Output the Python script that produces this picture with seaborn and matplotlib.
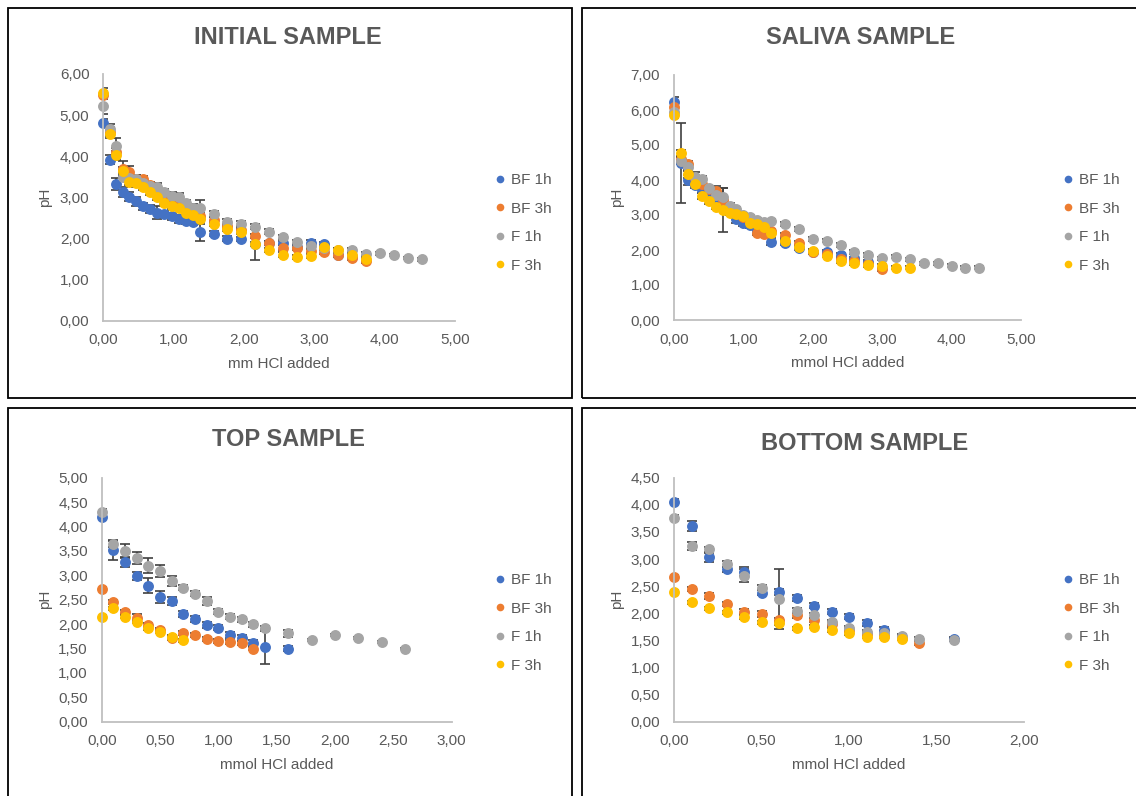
import matplotlib
matplotlib.use("Agg")
import matplotlib.pyplot as plt
from matplotlib.patches import Rectangle
from matplotlib.lines import Line2D
from matplotlib.ticker import FuncFormatter, MultipleLocator
import seaborn as sns
import pandas as pd

sns.set_theme(style="white")
plt.rcParams['font.family'] = ['Liberation Sans', 'DejaVu Sans']

# ---------------- data ----------------
series_names = ["BF 1h", "BF 3h", "F 1h", "F 3h"]
series_colors = ["#4472C4", "#ED7D31", "#A5A5A5", "#FFC000"]

# INITIAL SAMPLE
init_x = [0.0, 0.09, 0.18, 0.28, 0.37, 0.47, 0.57, 0.67, 0.77, 0.87, 0.97, 1.07, 1.17, 1.27, 1.37,
          1.57, 1.76, 1.96, 2.16, 2.35, 2.55, 2.75, 2.95, 3.14, 3.34, 3.54, 3.74, 3.93, 4.13, 4.33, 4.53]
init_bf1h = [4.80, 3.92, 3.32, 3.12, 3.02, 2.90, 2.78, 2.72, 2.63, 2.60, 2.54, 2.47, 2.43, 2.40, 2.15,
             2.12, 1.99, 1.99, 1.86, 1.90, 1.90, 1.80, 1.90, 1.86, 1.59, 1.56]
init_bf1h_err = [0.10, 0.12, 0.15, 0.12, 0.10, 0.10, 0.08, 0.10, 0.15, 0.08, 0.08, 0.10, 0.08, 0.08, 0.20,
                 0.06, 0.06, 0.05, 0.05, 0.05, 0.05, 0.05, 0.06, 0.05, 0.05, 0.05]
init_bf3h = [5.50, 4.60, 4.10, 3.70, 3.62, 3.45, 3.44, 3.30, 3.15, 3.00, 2.90, 2.85, 2.75, 2.65, 2.55,
             2.45, 2.30, 2.20, 2.06, 1.88, 1.78, 1.78, 1.69, 1.67, 1.59, 1.53, 1.45]
init_bf3h_err = [0.08, 0.10, 0.10, 0.18, 0.15, 0.10, 0.08, 0.08, 0.08, 0.08, 0.08, 0.08, 0.08, 0.08, 0.08,
                 0.08, 0.06, 0.06, 0.05, 0.05, 0.05, 0.05, 0.05, 0.05, 0.05, 0.05, 0.05]
init_f1h = [5.23, 4.67, 4.24, 3.50, 3.48, 3.44, 3.36, 3.28, 3.26, 3.12, 3.04, 3.00, 2.86, 2.74, 2.74,
            2.60, 2.39, 2.36, 2.28, 2.16, 2.04, 1.91, 1.82, 1.78, 1.73, 1.71, 1.62, 1.64, 1.60, 1.52, 1.49]
init_f1h_err = [0.20, 0.12, 0.20, 0.10, 0.08, 0.10, 0.08, 0.08, 0.08, 0.08, 0.08, 0.10, 0.08, 0.10, 0.20,
                0.08, 0.08, 0.06, 0.06, 0.06, 0.05, 0.05, 0.05, 0.05, 0.05, 0.05, 0.05, 0.03, 0.03, 0.03, 0.03]
init_f3h = [5.53, 4.55, 4.02, 3.64, 3.38, 3.34, 3.24, 3.12, 3.00, 2.87, 2.78, 2.75, 2.63, 2.58, 2.47,
            2.36, 2.23, 2.15, 1.87, 1.73, 1.61, 1.56, 1.57, 1.80, 1.73, 1.59, 1.51]
init_f3h_err = [0.13, 0.10, 0.10, 0.10, 0.08, 0.08, 0.06, 0.06, 0.06, 0.06, 0.06, 0.06, 0.06, 0.06, 0.06,
                0.06, 0.05, 0.05, 0.40, 0.05, 0.05, 0.05, 0.05, 0.05, 0.05, 0.05, 0.05]

# SALIVA SAMPLE
sal_x = [0.0, 0.1, 0.2, 0.3, 0.4, 0.5, 0.6, 0.7, 0.8, 0.9, 1.0, 1.1, 1.2, 1.3, 1.4,
         1.6, 1.8, 2.0, 2.2, 2.4, 2.6, 2.8, 3.0, 3.2, 3.4, 3.6, 3.8, 4.0, 4.2, 4.4]
sal_bf1h = [6.24, 4.49, 4.00, 3.86, 3.72, 3.60, 3.45, 3.30, 3.10, 2.88, 2.76, 2.71, 2.54, 2.48, 2.24,
            2.21, 2.05, 1.95, 1.95, 1.86, 1.76, 1.67]
sal_bf1h_err = [0.12, 1.14, 0.15, 0.10, 0.08, 0.08, 0.08, 0.08, 0.08, 0.10, 0.08, 0.08, 0.08, 0.08, 0.10,
                0.06, 0.05, 0.05, 0.05, 0.05, 0.05, 0.05]
sal_bf3h = [6.10, 4.60, 4.45, 4.05, 3.90, 3.75, 3.70, 3.43, 3.20, 3.05, 2.95, 2.80, 2.50, 2.45, 2.55,
            2.43, 2.19, 1.95, 1.88, 1.75, 1.69, 1.60, 1.45]
sal_bf3h_err = [0.08, 0.10, 0.08, 0.08, 0.08, 0.08, 0.12, 0.08, 0.06, 0.06, 0.06, 0.06, 0.06, 0.06, 0.06,
                0.06, 0.06, 0.05, 0.05, 0.05, 0.05, 0.05, 0.05]
sal_f1h = [5.95, 4.55, 4.38, 4.10, 4.02, 3.76, 3.57, 3.52, 3.26, 3.16, 3.00, 2.95, 2.86, 2.81, 2.83,
           2.74, 2.60, 2.31, 2.27, 2.14, 1.95, 1.86, 1.76, 1.81, 1.73, 1.62, 1.62, 1.55, 1.50, 1.50]
sal_f1h_err = [0.10, 0.10, 0.10, 0.12, 0.10, 0.08, 0.08, 0.25, 0.08, 0.08, 0.06, 0.06, 0.06, 0.06, 0.06,
               0.05, 0.05, 0.05, 0.05, 0.05, 0.05, 0.05, 0.05, 0.05, 0.04, 0.04, 0.04, 0.04, 0.03, 0.03]
sal_f3h = [5.86, 4.76, 4.16, 3.90, 3.54, 3.40, 3.24, 3.14, 3.07, 3.02, 2.97, 2.78, 2.73, 2.67, 2.49,
           2.26, 2.08, 1.98, 1.84, 1.69, 1.62, 1.57, 1.54, 1.50, 1.50]
sal_f3h_err = [0.10, 0.10, 0.10, 0.08, 0.08, 0.08, 0.08, 0.63, 0.08, 0.06, 0.06, 0.06, 0.06, 0.06, 0.06,
               0.05, 0.05, 0.05, 0.05, 0.05, 0.05, 0.05, 0.05, 0.04, 0.04]

# TOP SAMPLE
top_x = [0.0, 0.1, 0.2, 0.3, 0.4, 0.5, 0.6, 0.7, 0.8, 0.9, 1.0, 1.1, 1.2, 1.3, 1.4,
         1.6, 1.8, 2.0, 2.2, 2.4, 2.6]
top_bf1h = [4.20, 3.52, 3.27, 2.99, 2.79, 2.56, 2.48, 2.21, 2.10, 1.98, 1.93, 1.78, 1.72, 1.62, 1.54, 1.50]
top_bf1h_err = [0.05, 0.20, 0.10, 0.08, 0.15, 0.12, 0.08, 0.06, 0.06, 0.06, 0.06, 0.06, 0.06, 0.06, 0.35, 0.05]
top_bf3h = [2.72, 2.45, 2.25, 2.13, 1.98, 1.88, 1.71, 1.81, 1.78, 1.69, 1.66, 1.64, 1.61, 1.50]
top_bf3h_err = [0.04, 0.04, 0.04, 0.08, 0.04, 0.04, 0.04, 0.04, 0.04, 0.04, 0.04, 0.04, 0.04, 0.04]
top_f1h = [4.30, 3.64, 3.50, 3.36, 3.20, 3.09, 2.89, 2.75, 2.62, 2.48, 2.25, 2.15, 2.10, 2.00, 1.91,
           1.81, 1.67, 1.78, 1.71, 1.64, 1.50]
top_f1h_err = [0.05, 0.06, 0.15, 0.12, 0.15, 0.12, 0.10, 0.05, 0.05, 0.08, 0.05, 0.05, 0.05, 0.05, 0.05,
               0.07, 0.02, 0.02, 0.02, 0.02, 0.02]
top_f3h = [2.15, 2.32, 2.15, 2.05, 1.91, 1.84, 1.74, 1.67]
top_f3h_err = [0.03, 0.03, 0.03, 0.03, 0.03, 0.03, 0.03, 0.03]

# BOTTOM SAMPLE
bot_x = [0.0, 0.1, 0.2, 0.3, 0.4, 0.5, 0.6, 0.7, 0.8, 0.9, 1.0, 1.1, 1.2, 1.3, 1.4, 1.6]
bot_bf1h_x = [0.0, 0.1, 0.2, 0.3, 0.4, 0.5, 0.6, 0.7, 0.8, 0.9, 1.0, 1.1, 1.2, 1.6]
bot_bf1h = [4.06, 3.61, 3.03, 2.81, 2.77, 2.38, 2.39, 2.28, 2.14, 2.03, 1.94, 1.82, 1.69, 1.53]
bot_bf1h_err = [0.05, 0.10, 0.08, 0.05, 0.08, 0.05, 0.05, 0.05, 0.05, 0.05, 0.05, 0.05, 0.05, 0.04]
bot_bf3h = [2.66, 2.45, 2.32, 2.17, 2.03, 1.99, 1.88, 1.96, 1.88, 1.80, 1.69, 1.62, 1.58, 1.55, 1.46]
bot_bf3h_err = [0.04, 0.04, 0.05, 0.04, 0.04, 0.05, 0.04, 0.04, 0.04, 0.04, 0.04, 0.04, 0.04, 0.04, 0.04]
bot_f1h = [3.76, 3.24, 3.18, 2.91, 2.69, 2.47, 2.26, 2.05, 1.96, 1.83, 1.72, 1.66, 1.64, 1.58, 1.53, 1.51]
bot_f1h_err = [0.05, 0.08, 0.05, 0.05, 0.12, 0.05, 0.55, 0.04, 0.04, 0.04, 0.04, 0.04, 0.04, 0.04, 0.04, 0.03]
bot_f3h = [2.40, 2.20, 2.09, 2.02, 1.93, 1.83, 1.82, 1.72, 1.75, 1.69, 1.63, 1.57, 1.57, 1.53]
bot_f3h_err = [0.03, 0.03, 0.03, 0.03, 0.03, 0.03, 0.03, 0.03, 0.03, 0.03, 0.03, 0.03, 0.03, 0.03]

panels = [
    dict(title="INITIAL SAMPLE", xlabel="mm HCl added",
         series=[(init_x, init_bf1h, init_bf1h_err), (init_x, init_bf3h, init_bf3h_err),
                 (init_x, init_f1h, init_f1h_err), (init_x, init_f3h, init_f3h_err)],
         xlim=5, xstep=1.0, ylim=6, ystep=1.0,
         rect=(103.3, 74, 455, 320.7), title_xy=(288, 37), ylab_x=45, leg_xy=(494, 173)),
    dict(title="SALIVA SAMPLE", xlabel="mmol HCl added",
         series=[(sal_x, sal_bf1h, sal_bf1h_err), (sal_x, sal_bf3h, sal_bf3h_err),
                 (sal_x, sal_f1h, sal_f1h_err), (sal_x, sal_f3h, sal_f3h_err)],
         xlim=5, xstep=1.0, ylim=7, ystep=1.0,
         rect=(674, 75, 1021, 320), title_xy=(861, 37), ylab_x=617, leg_xy=(1062, 173)),
    dict(title="TOP SAMPLE", xlabel="mmol HCl added",
         series=[(top_x, top_bf1h, top_bf1h_err), (top_x, top_bf3h, top_bf3h_err),
                 (top_x, top_f1h, top_f1h_err), (top_x, top_f3h, top_f3h_err)],
         xlim=3, xstep=0.5, ylim=5, ystep=0.5,
         rect=(101.7, 477.7, 451.7, 721.7), title_xy=(288, 439), ylab_x=45, leg_xy=(494, 573)),
    dict(title="BOTTOM SAMPLE", xlabel="mmol HCl added",
         series=[(bot_bf1h_x, bot_bf1h, bot_bf1h_err), (bot_x, bot_bf3h, bot_bf3h_err),
                 (bot_x, bot_f1h, bot_f1h_err), (bot_x, bot_f3h, bot_f3h_err)],
         xlim=2, xstep=0.5, ylim=4.5, ystep=0.5,
         rect=(674, 477.7, 1024, 721.7), title_xy=(865, 444), ylab_x=617, leg_xy=(1062, 573)),
]

# ---------------- figure ----------------
W, H = 1136, 796
fig = plt.figure(figsize=(W / 100, H / 100), dpi=100)
fig.patch.set_facecolor("white")

txt = "#595959"
comma = FuncFormatter(lambda v, p: f"{v:.2f}".replace(".", ","))

# panel frames
for (x0, y0, x1, y1) in [(8, 8, 572, 398), (582, 8, 1140, 398),
                         (8, 408, 572, 800), (582, 408, 1140, 800)]:
    fig.patches.append(Rectangle((x0 / W, 1 - y1 / H), (x1 - x0) / W, (y1 - y0) / H,
                                 transform=fig.transFigure, fill=False,
                                 edgecolor="black", linewidth=1.3, zorder=0))

for p in panels:
    l, t, r, b = p["rect"]
    ax = fig.add_axes([l / W, 1 - b / H, (r - l) / W, (b - t) / H])
    rows = []
    for name, (xs, ys, es) in zip(series_names, p["series"]):
        for xv, yv in zip(xs, ys):
            rows.append({"x": xv, "pH": yv, "series": name})
    df = pd.DataFrame(rows)
    for name, color, (xs, ys, es) in zip(series_names, series_colors, p["series"]):
        ax.errorbar(xs[:len(ys)], ys, yerr=es, fmt="none", ecolor="#404040",
                    elinewidth=1.2, capsize=3.3, capthick=1.2, zorder=1)
        sub = df[df["series"] == name]
        sns.scatterplot(data=sub, x="x", y="pH", color=color, s=62, linewidth=0,
                        legend=False, ax=ax, zorder=2, clip_on=False)
    ax.set_xlim(0, p["xlim"])
    ax.set_ylim(0, p["ylim"])
    ax.xaxis.set_major_locator(MultipleLocator(p["xstep"]))
    ax.yaxis.set_major_locator(MultipleLocator(p["ystep"]))
    ax.xaxis.set_major_formatter(comma)
    ax.yaxis.set_major_formatter(comma)
    ax.tick_params(axis="both", length=0, labelsize=11, labelcolor=txt)
    ax.tick_params(axis="x", pad=9)
    ax.tick_params(axis="y", pad=10)
    for s in ["top", "right"]:
        ax.spines[s].set_visible(False)
    for s in ["left", "bottom"]:
        ax.spines[s].set_color("#BFBFBF")
        ax.spines[s].set_linewidth(1.3)
    ax.grid(False)
    ax.set_xlabel(p["xlabel"], fontsize=11, color=txt, labelpad=7)
    ax.set_ylabel("")
    fig.text(p["ylab_x"] / W, 1 - ((t + b) / 2) / H, "pH", rotation=90, fontsize=11,
             color=txt, ha="center", va="center")
    fig.text(p["title_xy"][0] / W, 1 - p["title_xy"][1] / H, p["title"], fontsize=17,
             fontweight="bold", color=txt, ha="center", va="center")
    handles = [Line2D([0], [0], marker="o", linestyle="none", markersize=5.5,
                      markerfacecolor=c, markeredgewidth=0) for c in series_colors]
    fig.legend(handles, series_names, loc="upper left",
               bbox_to_anchor=(p["leg_xy"][0] / W, 1 - p["leg_xy"][1] / H),
               bbox_transform=fig.transFigure, frameon=False, fontsize=11,
               labelcolor=txt, handlelength=0.8, handletextpad=0.3,
               labelspacing=0.95, borderpad=0, borderaxespad=0)

fig.savefig("out.png", dpi=100, facecolor="white")
